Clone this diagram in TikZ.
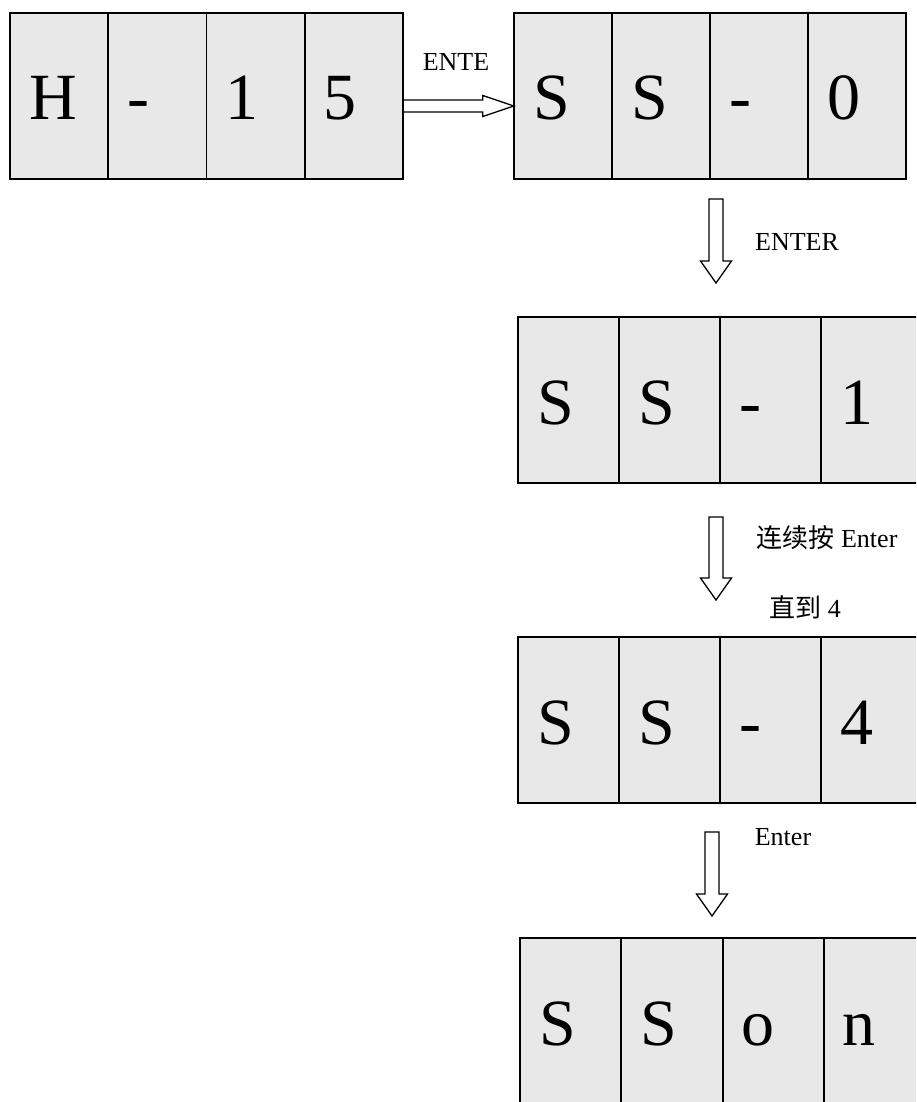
\documentclass[tikz,border=0pt]{standalone}
\usepackage{fontspec}
\setmainfont{Liberation Serif}
\newfontfamily\cjk{Noto Sans CJK SC}
\usetikzlibrary{calc,positioning}
\definecolor{cellfill}{RGB}{232,232,232}
\tikzset{
  cell/.style={fill=cellfill, minimum height=166pt,
    text width=#1, inner xsep=19pt, align=left, text height=48pt, text depth=0pt,
    font=\fontsize{66}{70}\selectfont},
  cellln/.style={line width=1.5pt},
  keylbl/.style={font=\fontsize{26}{30}\selectfont},
  blockln/.style={line width=1.3pt, line join=miter, fill=white},
}
\newcommand{\blkright}[2]{%
  \draw[blockln] let \p1=(#1), \p2=(#2) in
    (\x1,\y1+6pt) -- (\x2-31pt,\y1+6pt) -- (\x2-31pt,\y1+10.5pt) -- (\x2,\y1)
    -- (\x2-31pt,\y1-10.5pt) -- (\x2-31pt,\y1-6pt) -- (\x1,\y1-6pt) -- cycle;
}
\newcommand{\blkdown}[2]{%
  \draw[blockln] let \p1=(#1), \p2=(#2) in
    (\x1-7pt,\y1) -- (\x1+7pt,\y1) -- (\x1+7pt,\y2+22pt) -- (\x1+15.5pt,\y2+22pt) -- (\x2,\y2)
    -- (\x1-15.5pt,\y2+22pt) -- (\x1-7pt,\y2+22pt) -- cycle;
}

\begin{document}
\begin{tikzpicture}[x=1pt, y=-1pt]
    \useasboundingbox (0,0) rectangle (916,1102);
    \clip (0,0) rectangle (916,1102);
    % displays
    \foreach \ch [count=\i] in {H,-,1,5}
      \node[cell=60.25pt] (a\i) at ({10+98.25*(\i-0.5)},96) {\ch};
    \foreach \ch [count=\i] in {S,S,-,0}
      \node[cell=60pt] (b\i) at ({514+98*(\i-0.5)},96) {\ch};
    \foreach \ch [count=\i] in {S,S,-,1}
      \node[cell=63pt] (c\i) at ({518+101*(\i-0.5)},400) {\ch};
    \foreach \ch [count=\i] in {S,S,-,4}
      \node[cell=63pt] (d\i) at ({518+101*(\i-0.5)},720) {\ch};
    \foreach \ch [count=\i] in {S,S,o,n}
      \node[cell=63.3pt] (e\i) at ({520+101.3*(\i-0.5)},1021) {\ch};
    \foreach \r in {a,b,c,d,e}
      \foreach \i in {1,...,4}
        \draw[cellln] (\r\i.north west) rectangle (\r\i.south east);
    % key arrows
    \coordinate (h1) at ([yshift=-10pt]a4.east);
    \coordinate (h2) at ([yshift=-10pt]b1.west);
    \coordinate (v1) at (716,199);
    \coordinate (v2) at (716,283);
    \coordinate (v3) at (716,517);
    \coordinate (v4) at (716,600);
    \coordinate (v5) at (712,832);
    \coordinate (v6) at (712,916);
    \blkright{h1}{h2}
    \blkdown{v1}{v2}
    \blkdown{v3}{v4}
    \blkdown{v5}{v6}
    \node[keylbl] (k1) at (456,62) {ENTE};
    \node[keylbl] (k2) at (797,242) {ENTER};
    \node[keylbl] (k3) at (827,538) {{\cjk 连续按} Enter};
    \node[keylbl] (k4) at (805,607) {{\cjk 直到} 4};
    \node[keylbl] (k5) at (783,837) {Enter};
  \end{tikzpicture}
\end{document}
